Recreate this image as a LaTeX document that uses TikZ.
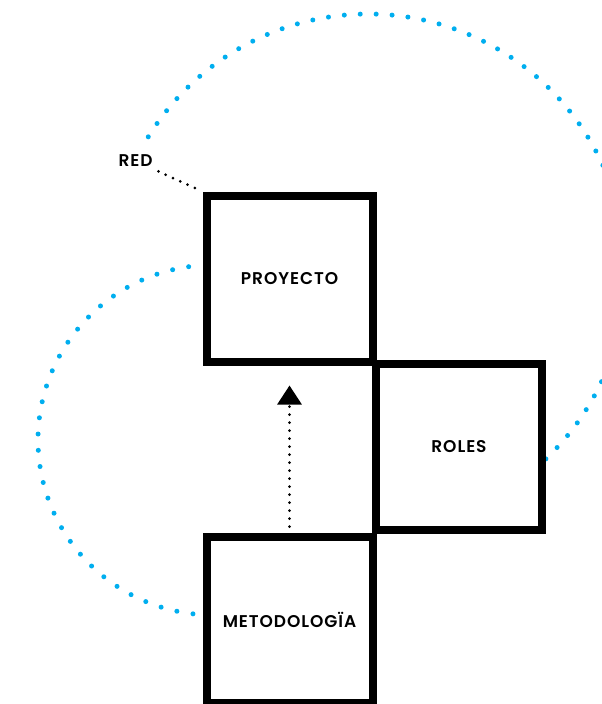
\documentclass[tikz,border=0pt]{standalone}
\usepackage{fontspec}
\usepackage{tikz}
\usetikzlibrary{arrows.meta}
\setmainfont{Poppins}[UprightFont={* SemiBold}, LetterSpace=5.5]
\definecolor{netblue}{RGB}{0,174,239}

\begin{document}
\begin{tikzpicture}[
		x=1 pt,
		y=-1 pt
		]
		% Define the size of the boxes.
			\def\boxsize{166 pt}
		\tikzstyle{box}=[
			rectangle,
			draw,
			line width=8 pt,
			color=black,
			minimum size=\boxsize,
			inner sep=0 pt,
			font=\fontsize{17}{20}\selectfont
		]
		\tikzstyle{tag}=[
			inner sep=3 pt,
			font=\fontsize{17}{20}\selectfont
		]
		\tikzstyle{ring}=[
			draw=netblue,
			line width=5 pt,
			line cap=round
		]
		\tikzstyle{link}=[
			draw=black,
			line width=3 pt,
			line cap=round,
			dash pattern=on 0 pt off 8 pt
		]
		\clip (0,0) rectangle (602,704);
		% Draw the blue rings.
			\draw[ring, dash pattern=on 0 pt off 15.95 pt] (368,272) ++(211.6:258) arc[start angle=211.6, end angle=406.9, radius=258];
			\draw[ring, dash pattern=on 0 pt off 16.3 pt] (213,440) ++(262:175) arc[start angle=262, end angle=96, radius=175];
		% Draw the three boxes.
			\node[box] (proyecto) at (289.5,278.5) {PROYECTO};
			\node[box] (roles) at (459,447) {ROLES};
			\node[box] (metodologia) at (289.5,619.5) {METODOLOGÏA};
		% Draw the label of the network.
			\node[tag] (red) at (135.5,161) {RED};
			\draw[link, shorten <=3 pt, shorten >=8 pt] (red.south east) -- (proyecto.north west);
		% Connect the method with the project.
			\draw[link, -{Triangle[length=19pt, width=24pt]}, shorten <=6 pt, shorten >=20 pt] (metodologia.north) -- (proyecto.south);
	\end{tikzpicture}
\end{document}
